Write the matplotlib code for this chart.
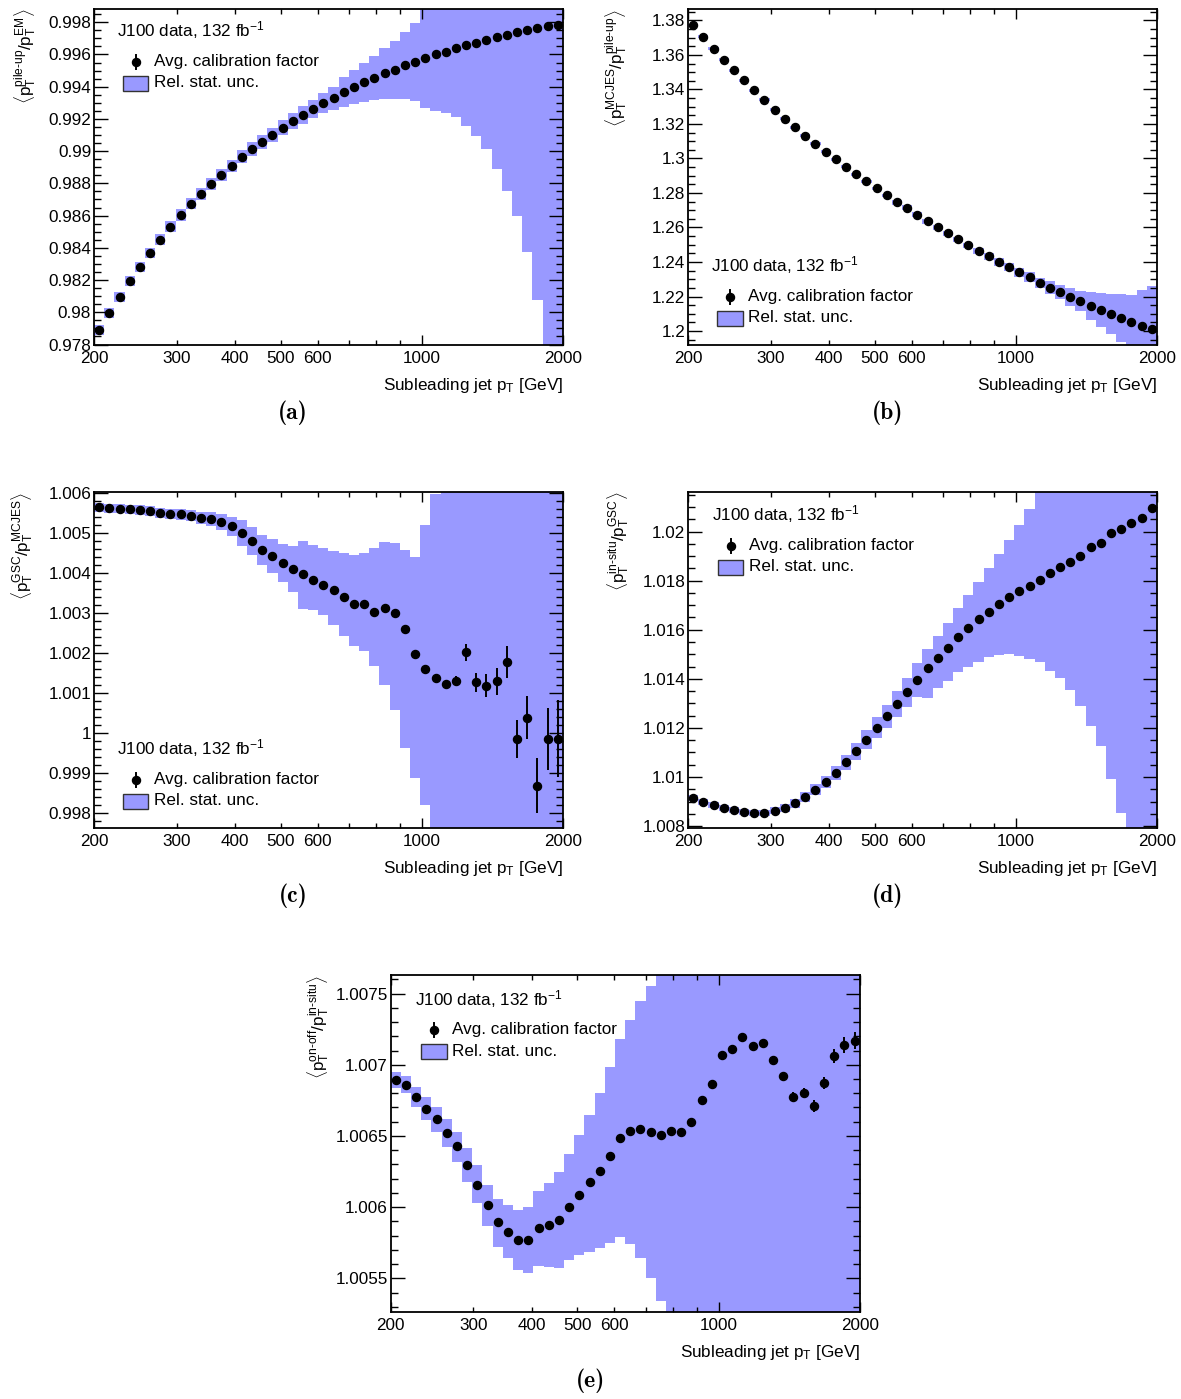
import numpy as np
import matplotlib
matplotlib.use("Agg")
import matplotlib.pyplot as plt
from matplotlib.ticker import MultipleLocator, AutoMinorLocator, FixedLocator, FixedFormatter, FuncFormatter
from matplotlib.patches import Rectangle
from matplotlib.lines import Line2D

plt.rcParams['font.family'] = ['Liberation Sans', 'DejaVu Sans']
plt.rcParams['mathtext.fontset'] = 'custom'
plt.rcParams['mathtext.rm'] = 'Liberation Sans'
plt.rcParams['mathtext.it'] = 'Liberation Sans:italic'
plt.rcParams['mathtext.bf'] = 'Liberation Sans:bold'

W, H = 1181, 1399
BAND = '#9999ff'
FS = 12.3

# bin centres [GeV]
pt = [205.1, 215.6, 226.7, 238.3, 250.5, 263.4, 276.9, 291.1, 306.1, 321.8,
      338.3, 355.6, 373.9, 393.1, 413.3, 434.5, 456.8, 480.2, 504.9, 530.8,
      558.0, 586.6, 616.8, 648.4, 681.7, 716.7, 753.5, 792.1, 832.8, 875.5,
      920.4, 967.7, 1017.3, 1069.6, 1124.4, 1182.2, 1242.8, 1306.6, 1373.7, 1444.2,
      1518.3, 1596.2, 1678.1, 1764.2, 1854.8, 1950.0]

# (a) pile-up / EM
calib_a = [0.97890, 0.97996, 0.98095, 0.98194, 0.98281, 0.98368, 0.98449, 0.98530, 0.98604, 0.98673,
           0.98735, 0.98797, 0.98853, 0.98909, 0.98965, 0.99014, 0.99058, 0.99101, 0.99145, 0.99188,
           0.99226, 0.99261, 0.99296, 0.99327, 0.99367, 0.99398, 0.99426, 0.99455, 0.99482, 0.99505,
           0.99532, 0.99555, 0.99575, 0.99600, 0.99617, 0.99637, 0.99656, 0.99673, 0.99691, 0.99708,
           0.99722, 0.99737, 0.99749, 0.99762, 0.99774, 0.99783]
unc_a = [0.00031, 0.00031, 0.00031, 0.00031, 0.00032, 0.00033, 0.00034, 0.00034, 0.00035, 0.00035,
         0.00036, 0.00037, 0.00038, 0.00039, 0.00040, 0.00042, 0.00043, 0.00045, 0.00047, 0.00050,
         0.00055, 0.00058, 0.00062, 0.00070, 0.00091, 0.00103, 0.00119, 0.00136, 0.00156, 0.00179,
         0.00206, 0.00241, 0.00310, 0.00350, 0.00380, 0.00428, 0.00502, 0.00580, 0.00679, 0.00819,
         0.00969, 0.01138, 0.01372, 0.01687, 0.02200, 0.02500]

# (b) MCJES / pile-up
calib_b = [1.3772, 1.3705, 1.3637, 1.3573, 1.3512, 1.3454, 1.3394, 1.3339, 1.3283, 1.3231,
           1.3180, 1.3132, 1.3086, 1.3040, 1.2995, 1.2953, 1.2909, 1.2868, 1.2826, 1.2787,
           1.2747, 1.2714, 1.2674, 1.2637, 1.2602, 1.2566, 1.2531, 1.2497, 1.2464, 1.2433,
           1.2400, 1.2371, 1.2340, 1.2312, 1.2281, 1.2252, 1.2225, 1.2196, 1.2172, 1.2147,
           1.2123, 1.2100, 1.2077, 1.2055, 1.2031, 1.2009]
unc_b = [0.0009, 0.0009, 0.0009, 0.0009, 0.0009, 0.0009, 0.0009, 0.0009, 0.0009, 0.0009,
         0.0009, 0.0009, 0.0009, 0.0009, 0.0009, 0.0009, 0.0009, 0.0009, 0.0009, 0.0009,
         0.0014, 0.0014, 0.0014, 0.0014, 0.0014, 0.0014, 0.0014, 0.0014, 0.0017, 0.0020,
         0.0023, 0.0026, 0.0026, 0.0029, 0.0029, 0.0035, 0.0040, 0.0052, 0.0058, 0.0081,
         0.0098, 0.0116, 0.0139, 0.0156, 0.0208, 0.0249]

# (c) GSC / MCJES
calib_c = [1.005633, 1.005608, 1.005600, 1.005590, 1.005565, 1.005540, 1.005500, 1.005465, 1.005465, 1.005433,
           1.005383, 1.005350, 1.005265, 1.005165, 1.005000, 1.004790, 1.004565, 1.004415, 1.004250, 1.004100,
           1.003960, 1.003820, 1.003700, 1.003570, 1.003410, 1.003215, 1.003225, 1.003025, 1.003115, 1.003000,
           1.002600, 1.001983, 1.001608, 1.001375, 1.001225, 1.001308, 1.002015, 1.001265, 1.001183, 1.001290,
           1.001765, 0.999858, 1.000383, 0.998683, 0.999858, 0.999858]
err_c = [0.00003, 0.00003, 0.00003, 0.00003, 0.00003, 0.00003, 0.00003, 0.00003, 0.00003, 0.00003,
         0.00003, 0.00003, 0.00003, 0.00003, 0.00003, 0.00003, 0.00003, 0.00003, 0.00003, 0.00003,
         0.00003, 0.00003, 0.00003, 0.00003, 0.00003, 0.00003, 0.00003, 0.00003, 0.00003, 0.00003,
         0.00005, 0.00006, 0.00007, 0.00009, 0.00010, 0.00012, 0.00021, 0.00024, 0.00028, 0.00033,
         0.00040, 0.00047, 0.00054, 0.00069, 0.00078, 0.00096]
band_c_lo = [1.005525, 1.005500, 1.005487, 1.005477, 1.005447, 1.005415, 1.005375, 1.005335, 1.005332, 1.005293,
             1.005233, 1.005182, 1.005065, 1.004922, 1.004675, 1.004440, 1.004190, 1.003990, 1.003775, 1.003525,
             1.003108, 1.003083, 1.002958, 1.002708, 1.002415, 1.002165, 1.002040, 1.001665, 1.001208, 1.000583,
             0.999625, 0.998875, 0.998208, 0.997583, 0.997, 0.997, 0.997, 0.997, 0.997, 0.997,
             0.997, 0.997, 0.997, 0.997, 0.997, 0.997]
band_c_hi = [1.005741, 1.005716, 1.005713, 1.005703, 1.005683, 1.005665, 1.005625, 1.005595, 1.005598, 1.005573,
             1.005533, 1.005518, 1.005465, 1.005408, 1.005325, 1.005140, 1.004940, 1.004840, 1.004725, 1.004675,
             1.004808, 1.004708, 1.004633, 1.004558, 1.004508, 1.004458, 1.004508, 1.004633, 1.004783, 1.004758,
             1.004583, 1.004408, 1.005208, 1.005958, 1.0065, 1.0065, 1.0065, 1.0065, 1.0065, 1.0065,
             1.0065, 1.0065, 1.0065, 1.0065, 1.0065, 1.0065]

# (d) in-situ / GSC
calib_d = [1.009137, 1.008998, 1.008863, 1.008740, 1.008658, 1.008564, 1.008523, 1.008548, 1.008618, 1.008728,
           1.008933, 1.009178, 1.009476, 1.009792, 1.010160, 1.010610, 1.011043, 1.011521, 1.012000, 1.012474,
           1.012982, 1.013456, 1.013947, 1.014438, 1.014834, 1.015272, 1.015693, 1.016061, 1.016429, 1.016728,
           1.017043, 1.017329, 1.017562, 1.017791, 1.018037, 1.018311, 1.018544, 1.018770, 1.018994, 1.019360,
           1.019550, 1.019959, 1.020098, 1.020356, 1.020548, 1.020957]
band_d_lo = [1.009014, 1.008875, 1.008740, 1.008617, 1.008535, 1.008441, 1.008400, 1.008425, 1.008475, 1.008564,
             1.008749, 1.008974, 1.009251, 1.009547, 1.009874, 1.010303, 1.010695, 1.011132, 1.011571, 1.012004,
             1.012450, 1.012863, 1.013252, 1.013239, 1.013607, 1.013906, 1.014262, 1.014466, 1.014683, 1.014875,
             1.014957, 1.014998, 1.014928, 1.014793, 1.014671, 1.014315, 1.014016, 1.013538, 1.012883, 1.012094,
             1.011247, 1.009926, 1.008548, 1.007, 1.007, 1.007]
band_d_hi = [1.009260, 1.009121, 1.008986, 1.008863, 1.008781, 1.008687, 1.008646, 1.008671, 1.008761, 1.008892,
             1.009117, 1.009382, 1.009701, 1.010037, 1.010446, 1.010917, 1.011391, 1.011910, 1.012429, 1.012944,
             1.013514, 1.014049, 1.014630, 1.015202, 1.015746, 1.016294, 1.016879, 1.017411, 1.017955, 1.018503,
             1.019088, 1.019673, 1.020274, 1.020928, 1.021624, 1.023, 1.023, 1.023, 1.023, 1.023,
             1.023, 1.023, 1.023, 1.023, 1.023, 1.023]

# (e) on-off / in-situ
calib_e = [1.006894, 1.006859, 1.006777, 1.006690, 1.006618, 1.006520, 1.006430, 1.006297, 1.006152, 1.006016,
           1.005892, 1.005827, 1.005768, 1.005768, 1.005850, 1.005871, 1.005909, 1.006000, 1.006086, 1.006176,
           1.006255, 1.006362, 1.006489, 1.006534, 1.006548, 1.006531, 1.006508, 1.006536, 1.006529, 1.006597,
           1.006754, 1.006864, 1.007072, 1.007114, 1.007198, 1.007133, 1.007152, 1.007034, 1.006922, 1.006777,
           1.006801, 1.006711, 1.006871, 1.007063, 1.007140, 1.007170]
err_e = [0.000015, 0.000015, 0.000015, 0.000015, 0.000015, 0.000015, 0.000015, 0.000015, 0.000015, 0.000015,
         0.000015, 0.000015, 0.000015, 0.000015, 0.000015, 0.000015, 0.000015, 0.000015, 0.000015, 0.000015,
         0.000015, 0.000015, 0.000015, 0.000015, 0.000015, 0.000015, 0.000015, 0.000015, 0.000015, 0.000015,
         0.00002, 0.00002, 0.00002, 0.00002, 0.00002, 0.00002, 0.00002, 0.00002, 0.00003, 0.00003,
         0.000035, 0.00004, 0.00004, 0.00005, 0.000056, 0.00006]
band_e_lo = [1.006836, 1.006801, 1.006706, 1.006613, 1.006531, 1.006423, 1.006320, 1.006176, 1.006028, 1.005864,
             1.005723, 1.005642, 1.005560, 1.005537, 1.005588, 1.005579, 1.005572, 1.005630, 1.005665, 1.005688,
             1.005712, 1.005747, 1.005789, 1.005742, 1.005642, 1.005501, 1.005337, 1.005, 1.005, 1.005,
             1.005, 1.005, 1.005, 1.005, 1.005, 1.005, 1.005, 1.005, 1.005, 1.005,
             1.005, 1.005, 1.005, 1.005, 1.005, 1.005]
band_e_hi = [1.006952, 1.006922, 1.006847, 1.006777, 1.006706, 1.006620, 1.006529, 1.006416, 1.006297, 1.006157,
             1.006056, 1.006016, 1.005981, 1.006000, 1.006110, 1.006169, 1.006250, 1.006374, 1.006508, 1.006648,
             1.006801, 1.006983, 1.007182, 1.007315, 1.007451, 1.007554, 1.00774, 1.008, 1.008, 1.008,
             1.008, 1.008, 1.008, 1.008, 1.008, 1.008, 1.008, 1.008, 1.008, 1.008,
             1.008, 1.008, 1.008, 1.008, 1.008, 1.008]

c = np.array(pt)
edges = np.concatenate([[200.0], np.sqrt(c[:-1] * c[1:]), [2000.0]])


def fx(x):
    return x / W


def fy(y):
    return 1 - y / H


def ytick_fmt(v, pos):
    s = f"{round(v, 6):.6f}".rstrip('0').rstrip('.')
    return s


fig = plt.figure(figsize=(W / 100, H / 100), dpi=100)


def panel(x0, y0, y1, val, lo, hi, err, ylim, ystep, nminor, ylabel, ylab_x, caption, cap_xy, leg_xy):
    ax = fig.add_axes([fx(x0), fy(y1), 469 / W, (y1 - y0) / H])
    ax.set_xscale('log')
    ax.stairs(hi, edges, baseline=lo, fill=True, color=BAND, lw=0, zorder=1)
    ax.errorbar(pt, val, yerr=err, fmt='o', ms=5.8, color='k', ecolor='k',
                elinewidth=1.4, capsize=0, zorder=3)
    ax.set_xlim(200, 2000)
    ax.set_ylim(*ylim)

    ax.xaxis.set_major_locator(FixedLocator([200, 1000, 2000]))
    ax.xaxis.set_major_formatter(FixedFormatter(['200', '1000', '2000']))
    ax.xaxis.set_minor_locator(FixedLocator([300, 400, 500, 600, 700, 800, 900]))
    ax.xaxis.set_minor_formatter(FixedFormatter(['300', '400', '500', '600', '', '', '']))
    ax.yaxis.set_major_locator(MultipleLocator(ystep))
    ax.yaxis.set_minor_locator(AutoMinorLocator(nminor))
    ax.yaxis.set_major_formatter(FuncFormatter(ytick_fmt))

    ax.tick_params(which='both', direction='in', top=True, right=True, width=1.0, labelsize=FS)
    ax.tick_params(axis='x', which='major', length=7.2, pad=4.5)
    ax.tick_params(axis='x', which='minor', length=3.6, pad=4.5)
    ax.tick_params(axis='y', which='major', length=10, pad=2)
    ax.tick_params(axis='y', which='minor', length=5, pad=2)
    for sp in ax.spines.values():
        sp.set_linewidth(1.3)

    fig.text(fx(x0 + 469), fy(y1 + 45), r'Subleading jet p$_{\mathrm{T}}$ [GeV]',
             ha='right', va='baseline', fontsize=FS)
    fig.text(fx(ylab_x), fy(y0), ylabel, rotation=90, ha='center', va='top', fontsize=FS)
    fig.text(fx(cap_xy[0]), fy(cap_xy[1]), caption, ha='center', va='center',
             fontsize=17, family='cmb10')

    # legend block
    lx, ly = leg_xy
    fig.text(fx(lx), fy(ly), r'J100 data, 132 fb$^{-1}$', ha='left', va='baseline', fontsize=FS)
    fig.add_artist(Line2D([fx(lx + 19.3)] * 2, [fy(ly + 25 - 7), fy(ly + 25 + 7)],
                          color='k', lw=1.4, transform=fig.transFigure))
    fig.add_artist(Line2D([fx(lx + 19.3)], [fy(ly + 25)], marker='o', ms=5.8, color='k',
                          transform=fig.transFigure))
    fig.text(fx(lx + 37.3), fy(ly + 29), 'Avg. calibration factor', ha='left', va='baseline', fontsize=FS)
    fig.add_artist(Rectangle((fx(lx + 6), fy(ly + 54)), 25.6 / W, 14.7 / H, facecolor=BAND,
                             edgecolor='#333333', lw=1.0, transform=fig.transFigure))
    fig.text(fx(lx + 37.3), fy(ly + 50.6), 'Rel. stat. unc.', ha='left', va='baseline', fontsize=FS)
    return ax


lo_a = np.array(calib_a) - np.array(unc_a)
hi_a = np.array(calib_a) + np.array(unc_a)
lo_b = np.array(calib_b) - np.array(unc_b)
hi_b = np.array(calib_b) + np.array(unc_b)

panel(94, 9, 345, calib_a, lo_a, hi_a, None, (0.97797, 0.99882), 0.002, 4,
      r'$\langle\mathrm{p}_{\mathrm{T}}^{\text{pile-up}}/\mathrm{p}_{\mathrm{T}}^{\mathrm{EM}}\rangle$',
      25, '(a)', (293, 413), (116.7, 36.7))
panel(688, 9, 345, calib_b, lo_b, hi_b, None, (1.1919, 1.3866), 0.02, 4,
      r'$\langle\mathrm{p}_{\mathrm{T}}^{\mathrm{MCJES}}/\mathrm{p}_{\mathrm{T}}^{\text{pile-up}}\rangle$',
      616, '(b)', (888, 413), (711, 271.7))
panel(94, 492, 828, calib_c, band_c_lo, band_c_hi, err_c, (0.99763, 1.00602), 0.001, 5,
      r'$\langle\mathrm{p}_{\mathrm{T}}^{\mathrm{GSC}}/\mathrm{p}_{\mathrm{T}}^{\mathrm{MCJES}}\rangle$',
      22, '(c)', (293, 896), (116.7, 754.7))
panel(688, 492, 828, calib_d, band_d_lo, band_d_hi, None, (1.007923, 1.021611), 0.002, 4,
      r'$\langle\mathrm{p}_{\mathrm{T}}^{\text{in-situ}}/\mathrm{p}_{\mathrm{T}}^{\mathrm{GSC}}\rangle$',
      618, '(d)', (888, 896), (711.7, 520.7))
panel(390.7, 975, 1312, calib_e, band_e_lo, band_e_hi, err_e, (1.005263, 1.007631), 0.0005, 5,
      r'$\langle\mathrm{p}_{\mathrm{T}}^{\text{on-off}}/\mathrm{p}_{\mathrm{T}}^{\text{in-situ}}\rangle$',
      318, '(e)', (590, 1381), (415, 1005))

fig.savefig('out.png', dpi=100)
